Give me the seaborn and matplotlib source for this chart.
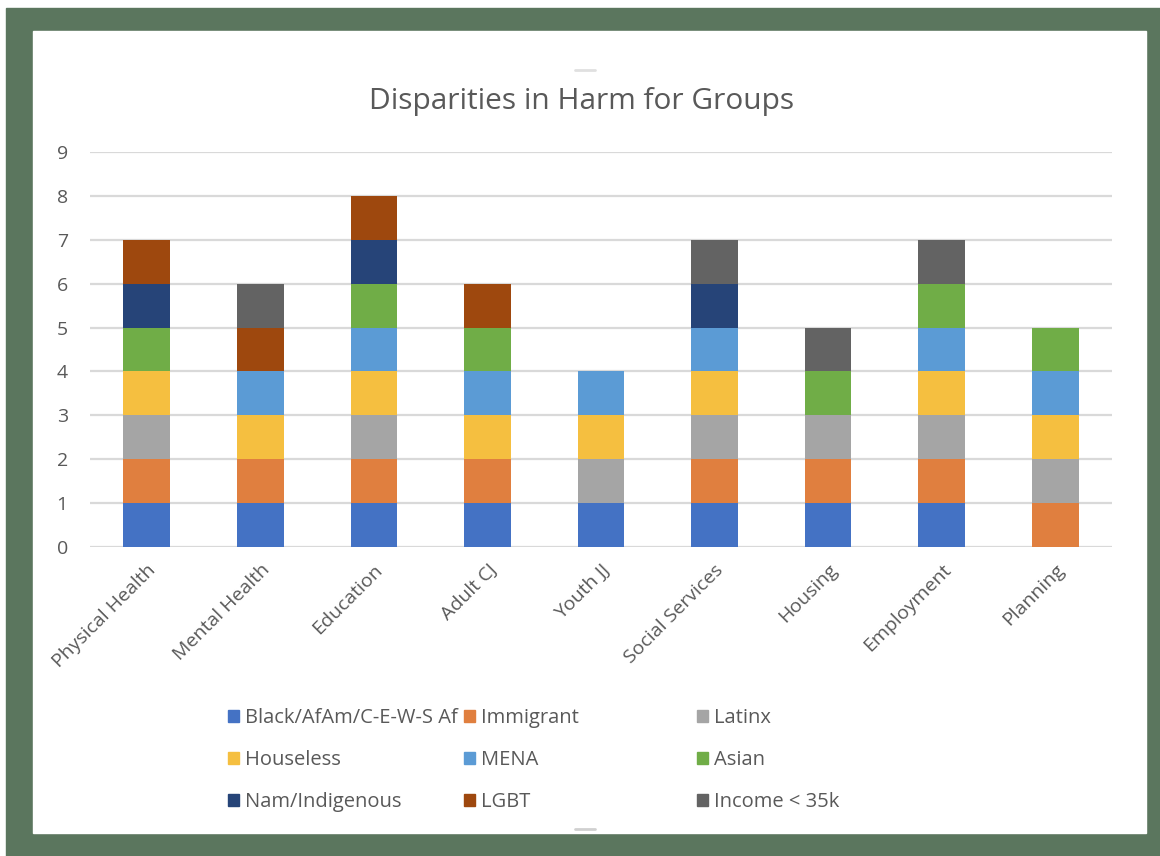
import matplotlib
matplotlib.use("Agg")
import matplotlib.pyplot as plt
import matplotlib.patches as mpatches
import seaborn as sns

# Chart data
categories = ["Physical Health", "Mental Health", "Education", "Adult CJ", "Youth JJ",
              "Social Services", "Housing", "Employment", "Planning"]
groups = ["Black/AfAm/C-E-W-S Af", "Immigrant", "Latinx", "Houseless", "MENA",
          "Asian", "Nam/Indigenous", "LGBT", "Income < 35k"]
black = [1, 1, 1, 1, 1, 1, 1, 1, 0]
immigrant = [1, 1, 1, 1, 0, 1, 1, 1, 1]
latinx = [1, 0, 1, 0, 1, 1, 1, 1, 1]
houseless = [1, 1, 1, 1, 1, 1, 0, 1, 1]
mena = [0, 1, 1, 1, 1, 1, 0, 1, 1]
asian = [1, 0, 1, 1, 0, 0, 1, 1, 1]
nam_indigenous = [1, 0, 1, 0, 0, 1, 0, 0, 0]
lgbt = [1, 1, 1, 1, 0, 0, 0, 0, 0]
income = [0, 1, 0, 0, 0, 1, 1, 1, 0]
series = [black, immigrant, latinx, houseless, mena, asian, nam_indigenous, lgbt, income]
colors = ["#4472C4", "#E07F3F", "#A5A5A5", "#F5BF40", "#5B9BD5",
          "#70AD47", "#264478", "#9E480E", "#636363"]
yticks = list(range(10))

sns.set_theme(style="white")
plt.rcParams["font.family"] = ["Open Sans", "DejaVu Sans"]
txt = "#595959"

W, H = 1160, 856
fig = plt.figure(figsize=(W / 100, H / 100), dpi=100)
fig.patch.set_facecolor("white")

# green frame and white slide panel
fig.patches.append(mpatches.Rectangle((6 / W, 0), 1 - 6 / W, 1 - 8 / H,
                                      transform=fig.transFigure, color="#5B765E", zorder=-2))
fig.patches.append(mpatches.Rectangle((33 / W, 1 - 833 / H), (1146 - 33) / W, (833 - 31) / H,
                                      transform=fig.transFigure, color="white", zorder=-1))

ax = fig.add_axes([90 / W, 1 - 547 / H, (1112 - 90) / W, (547 - 152) / H])
ax.set_facecolor("none")

bottom = [0] * len(categories)
for name, vals, c in zip(groups, series, colors):
    sns.barplot(x=categories, y=vals, bottom=bottom, color=c, width=0.41, saturation=1,
                errorbar=None, label=name, linewidth=0, ax=ax, zorder=3)
    bottom = [b + v for b, v in zip(bottom, vals)]

ax.set_ylim(0, 9)
ax.set_yticks(yticks)
ax.set_xlim(-0.5, len(categories) - 0.5)
ax.yaxis.grid(True, color="#D9D9D9", linewidth=1.6, zorder=0)
ax.set_axisbelow(True)
for s in ax.spines.values():
    s.set_visible(False)
ax.tick_params(axis="both", length=0, colors=txt, labelsize=14)
ax.tick_params(axis="y", pad=16)
ax.tick_params(axis="x", pad=10)
for lab in ax.get_xticklabels():
    lab.set_rotation(45)
    lab.set_ha("right")
    lab.set_rotation_mode("anchor")
ax.set_xlabel("")
ax.set_ylabel("")
if ax.get_legend() is not None:
    ax.get_legend().remove()

fig.text(582 / W, 1 - 101 / H, "Disparities in Harm for Groups", ha="center", va="center",
         fontsize=21.5, color=txt)

# legend laid out as three equal-width columns, filled row by row
handles = [mpatches.Patch(color=c) for c in colors]
col_x = [228, 464, 697]
for j, x0 in enumerate(col_x):
    idx = [j, j + 3, j + 6]
    fig.legend([handles[i] for i in idx], [groups[i] for i in idx],
               loc="upper left", bbox_to_anchor=(x0 / W, 1 - 708 / H), frameon=False,
               fontsize=14.5, labelcolor=txt, handlelength=0.55, handleheight=0.55,
               handletextpad=0.3, labelspacing=1.1, borderaxespad=0, borderpad=0)

# small slide handle marks
fig.add_artist(plt.Line2D([575 / W, 595 / W], [1 - 70 / H] * 2, color="#E0E0E0", lw=2))
fig.add_artist(plt.Line2D([575 / W, 595 / W], [1 - 829 / H] * 2, color="#D0D0D0", lw=2))

fig.savefig("out.png", dpi=100, facecolor=fig.get_facecolor())
